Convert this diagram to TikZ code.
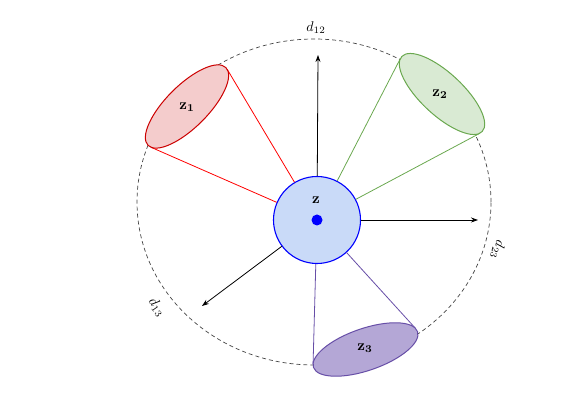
\documentclass[tikz,border=0pt]{standalone}
\usetikzlibrary{arrows.meta}
\definecolor{zredfill}{HTML}{F4CCCC}
\definecolor{zreddraw}{HTML}{CC0000}
\definecolor{zredline}{HTML}{FF0000}
\definecolor{zgreenfill}{HTML}{D9EAD3}
\definecolor{zgreendraw}{HTML}{6AA84F}
\definecolor{zpurplefill}{HTML}{B4A7D6}
\definecolor{zpurpledraw}{HTML}{674EA7}
\definecolor{zbluefill}{HTML}{C9DAF8}
\definecolor{dashgray}{HTML}{444444}
\begin{document}
\begin{tikzpicture}[x=1pt,y=1pt,
  zlabel/.style={scale=1.5},
  dlabel/.style={scale=1.4},
  conel/.style={line width=0.8pt},
  dirarrow/.style={-{Stealth[length=7pt,width=5pt]}, line width=0.8pt, black},
  blob/.style={line width=1pt}]
\useasboundingbox (0,0) rectangle (581,404);
\draw[dashgray, line width=0.7pt, dash pattern=on 4pt off 3pt] (314,202) ellipse [x radius=177pt, y radius=163pt];

\node[circle, draw=blue, fill=zbluefill, line width=1.1pt, minimum size=87pt, inner sep=0pt] (Z) at (317,184) {};
\fill[blue] (Z.center) circle (5.5pt);
\node[zlabel] (zt) at (316,204) {$\mathbf{z}$};

% z1
\begin{scope}[shift={(187,297.5)}, rotate=45]
  \coordinate (z1a) at (-5.56:55pt and 21pt);
  \coordinate (z1b) at (-171.44:55pt and 21pt);
\end{scope}
\draw[zredline, conel] (Z) -- (z1a);
\draw[zredline, conel] (Z) -- (z1b);
\begin{scope}[shift={(187,297.5)}, rotate=45]
  \draw[zreddraw, fill=zredfill, blob] (0,0) ellipse [x radius=55pt, y radius=21pt];
\end{scope}
\node[zlabel] (l1) at (187,297) {$\mathbf{z_1}$};

% z2
\begin{scope}[shift={(442,310)}, rotate=-43]
  \coordinate (z2a) at (-7.65:55pt and 21pt);
  \coordinate (z2b) at (-174.05:55pt and 21pt);
\end{scope}
\draw[zgreendraw, conel] (Z) -- (z2a);
\draw[zgreendraw, conel] (Z) -- (z2b);
\begin{scope}[shift={(442,310)}, rotate=-43]
  \draw[zgreendraw, fill=zgreenfill, blob] (0,0) ellipse [x radius=55pt, y radius=21pt];
\end{scope}
\node[zlabel] (l2) at (440,310) {$\mathbf{z_2}$};

% z3
\begin{scope}[shift={(365.5,54.5)}, rotate=19]
  \coordinate (z3a) at (172.02:55pt and 21pt);
  \coordinate (z3b) at (9.34:55pt and 21pt);
\end{scope}
\draw[zpurpledraw, conel] (Z) -- (z3a);
\draw[zpurpledraw, conel] (Z) -- (z3b);
\begin{scope}[shift={(365.5,54.5)}, rotate=19]
  \draw[zpurpledraw, fill=zpurplefill, blob] (0,0) ellipse [x radius=55pt, y radius=21pt];
\end{scope}
\node[zlabel] (l3) at (365,56) {$\mathbf{z_3}$};

% direction arrows
\coordinate (e12) at (318,349);
\coordinate (e23) at (478,184);
\coordinate (e13) at (202,98);
\draw[dirarrow] (Z) -- (e12);
\draw[dirarrow] (Z) -- (e23);
\draw[dirarrow] (Z) -- (e13);

\node[dlabel] (d12) at (316,376) {$d_{12}$};
\node[dlabel, rotate=-105] (d23) at (498,154) {$d_{23}$};
\node[dlabel, rotate=-55] (d13) at (157,97) {$d_{13}$};
\end{tikzpicture}
\end{document}
